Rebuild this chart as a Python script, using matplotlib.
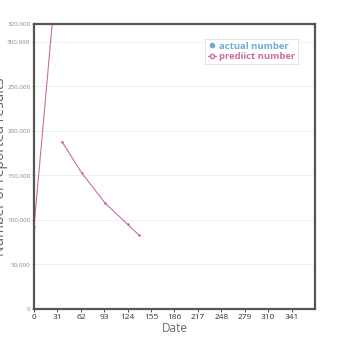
import numpy as np
import matplotlib.pyplot as plt

plt.rcParams['font.family'] = ['Open Sans', 'DejaVu Sans']

# data
early_days = [0, 31]
early_pred = [92000, 386000]
late_days = [37, 63, 94, 124, 139]
late_pred = [188000, 153000, 119000, 95000, 83000]
x_ticks = [0, 31, 62, 93, 124, 155, 186, 217, 248, 279, 310, 341]
y_ticks = [0, 50000, 100000, 150000, 200000, 250000, 300000, 320000]

pink = '#cc6aa6'
blue = '#6aaed6'

fig = plt.figure(figsize=(3.5, 3.5), dpi=100)
ax = fig.add_axes([34/350, 1 - 309/350, 281/350, 285/350])

ax.plot(early_days, early_pred, color=pink, lw=0.8, marker='o', ms=1.4,
        mfc=pink, mec=pink, mew=0.4)
ax.plot(late_days, late_pred, color=pink, lw=0.8, marker='o', ms=1.4,
        mfc=pink, mec=pink, mew=0.4)

ax.set_xlim(0, 372)
ax.set_ylim(0, 320000)
ax.set_xticks(x_ticks)
ax.set_yticks(y_ticks)
ax.set_yticklabels([f'{v:,}' for v in y_ticks])
ax.tick_params(axis='y', labelsize=4.5, colors='#888888', length=1.5, width=0.6, pad=1)
ax.tick_params(axis='x', labelsize=6, colors='#333333', length=2, width=0.6, pad=1.5)
ax.grid(axis='y', color='#eeeef4', lw=0.7)
ax.set_axisbelow(True)
for s in ax.spines.values():
    s.set_color('#555555')
    s.set_linewidth(1.6)

ax.set_xlabel('Date', fontsize=8.5, color='#666666', labelpad=1)
ax.set_ylabel('Number of reported results', fontsize=10, color='#666666')
ax.yaxis.set_label_coords(-0.094, 0.5)

h1, = ax.plot([], [], ls='none', marker='o', ms=3, color=blue)
h2, = ax.plot([], [], color=pink, lw=0.9, marker='o', ms=3, mfc='white', mec=pink)
leg = ax.legend([h1, h2], ['actual number', 'prediict number'], loc='upper right',
                bbox_to_anchor=(0.955, 0.965), fontsize=6.8, handlelength=0.8,
                handletextpad=0.3, borderpad=0.3, labelspacing=0.15,
                fancybox=False, edgecolor='#dddddd', framealpha=1)
leg.get_frame().set_linewidth(0.6)
for t, c in zip(leg.get_texts(), [blue, pink]):
    t.set_color(c)
    t.set_fontweight('bold')

fig.savefig('out.png', dpi=100)
